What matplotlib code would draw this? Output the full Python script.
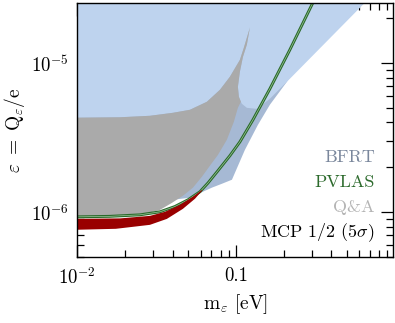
import matplotlib
matplotlib.use('Agg')
import matplotlib.pyplot as plt
import matplotlib.patheffects as pe
from matplotlib.ticker import FixedLocator, FixedFormatter, NullFormatter, LogLocator

plt.rcParams['font.family'] = 'serif'
plt.rcParams['font.serif'] = ['cmr10', 'DejaVu Serif']
plt.rcParams['mathtext.fontset'] = 'cm'
plt.rcParams['axes.formatter.use_mathtext'] = True

# ---------------- data ----------------
XLIM = (0.01, 0.975)
YLIM = (5.0e-7, 2.53e-5)

# PVLAS (green double line)
pvlas_m = [0.0095, 0.0160, 0.0248, 0.0332, 0.0412, 0.0499, 0.0593, 0.0667,
           0.0759, 0.0916, 0.1059, 0.128, 0.1637, 0.2188, 0.3055, 0.34]
pvlas_eps = [9.29e-7, 9.37e-7, 9.59e-7, 1.005e-6, 1.09e-6, 1.21e-6, 1.37e-6, 1.57e-6,
             1.86e-6, 2.39e-6, 2.96e-6, 4.16e-6, 6.72e-6, 1.228e-5, 2.54e-5, 3.15e-5]

# Q&A (grey) lower boundary, left -> right
qa_low_m = [0.0095, 0.0186, 0.0267, 0.0332, 0.0395, 0.0463, 0.0536, 0.0611,
            0.0686, 0.0770, 0.0877, 0.0971, 0.1029, 0.1075]
qa_low_eps = [9.37e-7, 9.44e-7, 9.74e-7, 1.035e-6, 1.154e-6, 1.287e-6, 1.46e-6, 1.73e-6,
              2.05e-6, 2.42e-6, 3.06e-6, 4.04e-6, 5.01e-6, 5.50e-6]
# Q&A spike, right edge (bottom -> tip)
qa_spike_m = [0.1075, 0.1044, 0.1029, 0.1059, 0.1107, 0.1172, 0.1225]
qa_spike_eps = [5.50e-6, 5.94e-6, 6.93e-6, 8.75e-6, 1.10e-5, 1.33e-5, 1.73e-5]
# Q&A upper boundary (tip -> left)
qa_top_m = [0.1225, 0.1122, 0.1059, 0.0916, 0.0793, 0.0656, 0.0513, 0.0401,
            0.0287, 0.0186, 0.0095]
qa_top_eps = [1.73e-5, 1.267e-5, 1.05e-5, 8.09e-6, 6.62e-6, 5.50e-6, 4.86e-6, 4.64e-6,
              4.43e-6, 4.33e-6, 4.30e-6]

# light-blue region: lobe bottom and right edge
lb_m = [0.1091, 0.1172, 0.1356, 0.1637, 0.2096, 0.650, 0.807]
lb_eps = [5.33e-6, 5.01e-6, 4.93e-6, 5.76e-6, 7.49e-6, 2.54e-5, 3.2e-5]

# BFRT lower edge
bfrt_m = [0.0095, 0.0332, 0.0425, 0.0513, 0.0619, 0.0706, 0.0816, 0.0944,
          0.114, 0.1376, 0.1637, 0.2096, 0.253, 0.391]
bfrt_eps = [1.19e-6, 1.20e-6, 1.22e-6, 1.25e-6, 1.37e-6, 1.46e-6, 1.55e-6, 1.65e-6,
            2.62e-6, 3.85e-6, 5.25e-6, 7.49e-6, 1.05e-5, 3.2e-5]

# MCP 1/2 (5 sigma) band
mcp_top_m = [0.0095, 0.0186, 0.0287, 0.0357, 0.0444, 0.0536, 0.0611]
mcp_top_eps = [9.01e-7, 9.08e-7, 9.44e-7, 1.005e-6, 1.12e-6, 1.27e-6, 1.41e-6]
mcp_bot_m = [0.0095, 0.0175, 0.0287, 0.0367, 0.0463, 0.0552, 0.0611]
mcp_bot_eps = [7.61e-7, 7.73e-7, 8.22e-7, 9.01e-7, 1.052e-6, 1.23e-6, 1.39e-6]

xtick_vals = [0.01, 0.1]
xtick_labels = [r'$10^{-2}$', '0.1']
ytick_vals = [1e-6, 1e-5]
ytick_labels = [r'$10^{-6}$', r'$10^{-5}$']

labels = ['BFRT', 'PVLAS', 'Q&A', r'MCP 1/2 (5$\sigma$)']
label_colors = ['#7a879c', '#2c6a2c', '#b4b4b4', '#000000']

# ---------------- colours ----------------
C_LB = '#bed3ee'
C_BFRT = '#a6b9d4'
C_QA = '#aaaaaa'
C_GREEN = '#2a6a2a'
C_RED = '#990000'

fig = plt.figure(figsize=(3.95, 3.23), dpi=100)
ax = fig.add_axes([0.1957, 0.2043, 0.7987, 0.7864])
ax.set_xscale('log')
ax.set_yscale('log')

top_y = YLIM[1] * 2
left_x = XLIM[0] * 0.9

# BFRT region (above its lower edge)
bx = [left_x] + bfrt_m + [bfrt_m[-1], left_x]
by = [bfrt_eps[0]] + bfrt_eps + [top_y, top_y]
ax.fill(bx, by, color=C_BFRT, lw=0, zorder=1)

# light-blue region
lx = [left_x, left_x] + qa_top_m[::-1] + qa_spike_m[::-1] + lb_m + [lb_m[-1]]
ly = [top_y, qa_top_eps[-1]] + qa_top_eps[::-1] + qa_spike_eps[::-1] + lb_eps + [top_y]
ax.fill(lx, ly, color=C_LB, lw=0, zorder=2)

# Q&A grey region
gx = [left_x] + qa_low_m + qa_spike_m[1:] + qa_top_m[1:] + [left_x]
gy = [qa_low_eps[0]] + qa_low_eps + qa_spike_eps[1:] + qa_top_eps[1:] + [qa_top_eps[-1]]
ax.fill(gx, gy, color=C_QA, lw=0, zorder=3)

# PVLAS double line
ax.plot(pvlas_m, pvlas_eps, color='#9cc49c', lw=0.5, zorder=4,
        path_effects=[pe.Stroke(linewidth=2.1, foreground=C_GREEN), pe.Normal()])

# MCP band
rx = mcp_top_m + mcp_bot_m[::-1]
ry = mcp_top_eps + mcp_bot_eps[::-1]
ax.fill(rx, ry, color=C_RED, lw=0, zorder=5)

ax.set_xlim(*XLIM)
ax.set_ylim(*YLIM)

ax.xaxis.set_major_locator(FixedLocator(xtick_vals))
ax.xaxis.set_major_formatter(FixedFormatter(xtick_labels))
ax.yaxis.set_major_locator(FixedLocator(ytick_vals))
ax.yaxis.set_major_formatter(FixedFormatter(ytick_labels))
ax.xaxis.set_minor_locator(LogLocator(base=10, subs=range(2, 10)))
ax.yaxis.set_minor_locator(LogLocator(base=10, subs=range(2, 10)))
ax.xaxis.set_minor_formatter(NullFormatter())
ax.yaxis.set_minor_formatter(NullFormatter())

ax.tick_params(which='both', direction='in', top=True, right=True, width=0.9,
               labelsize=13.5, color='black')
ax.tick_params(which='major', length=9)
ax.tick_params(which='minor', length=5)
ax.tick_params(axis='x', which='major', pad=7)
ax.tick_params(axis='y', which='major', pad=6)
for s in ax.spines.values():
    s.set_linewidth(1.0)
    s.set_zorder(10)

ax.set_xlabel(r'$\mathrm{m_\varepsilon}$ [eV]', fontsize=14, labelpad=3)
ax.set_ylabel(r'$\varepsilon\ =\ \mathrm{Q_\varepsilon/e}$', fontsize=14, labelpad=3)

ys = [0.374, 0.276, 0.177, 0.080]
for t, c, y in zip(labels, label_colors, ys):
    ax.text(0.943, y, t, color=c, fontsize=13, ha='right', va='baseline',
            transform=ax.transAxes, zorder=11)

fig.savefig('out.png', dpi=100)
